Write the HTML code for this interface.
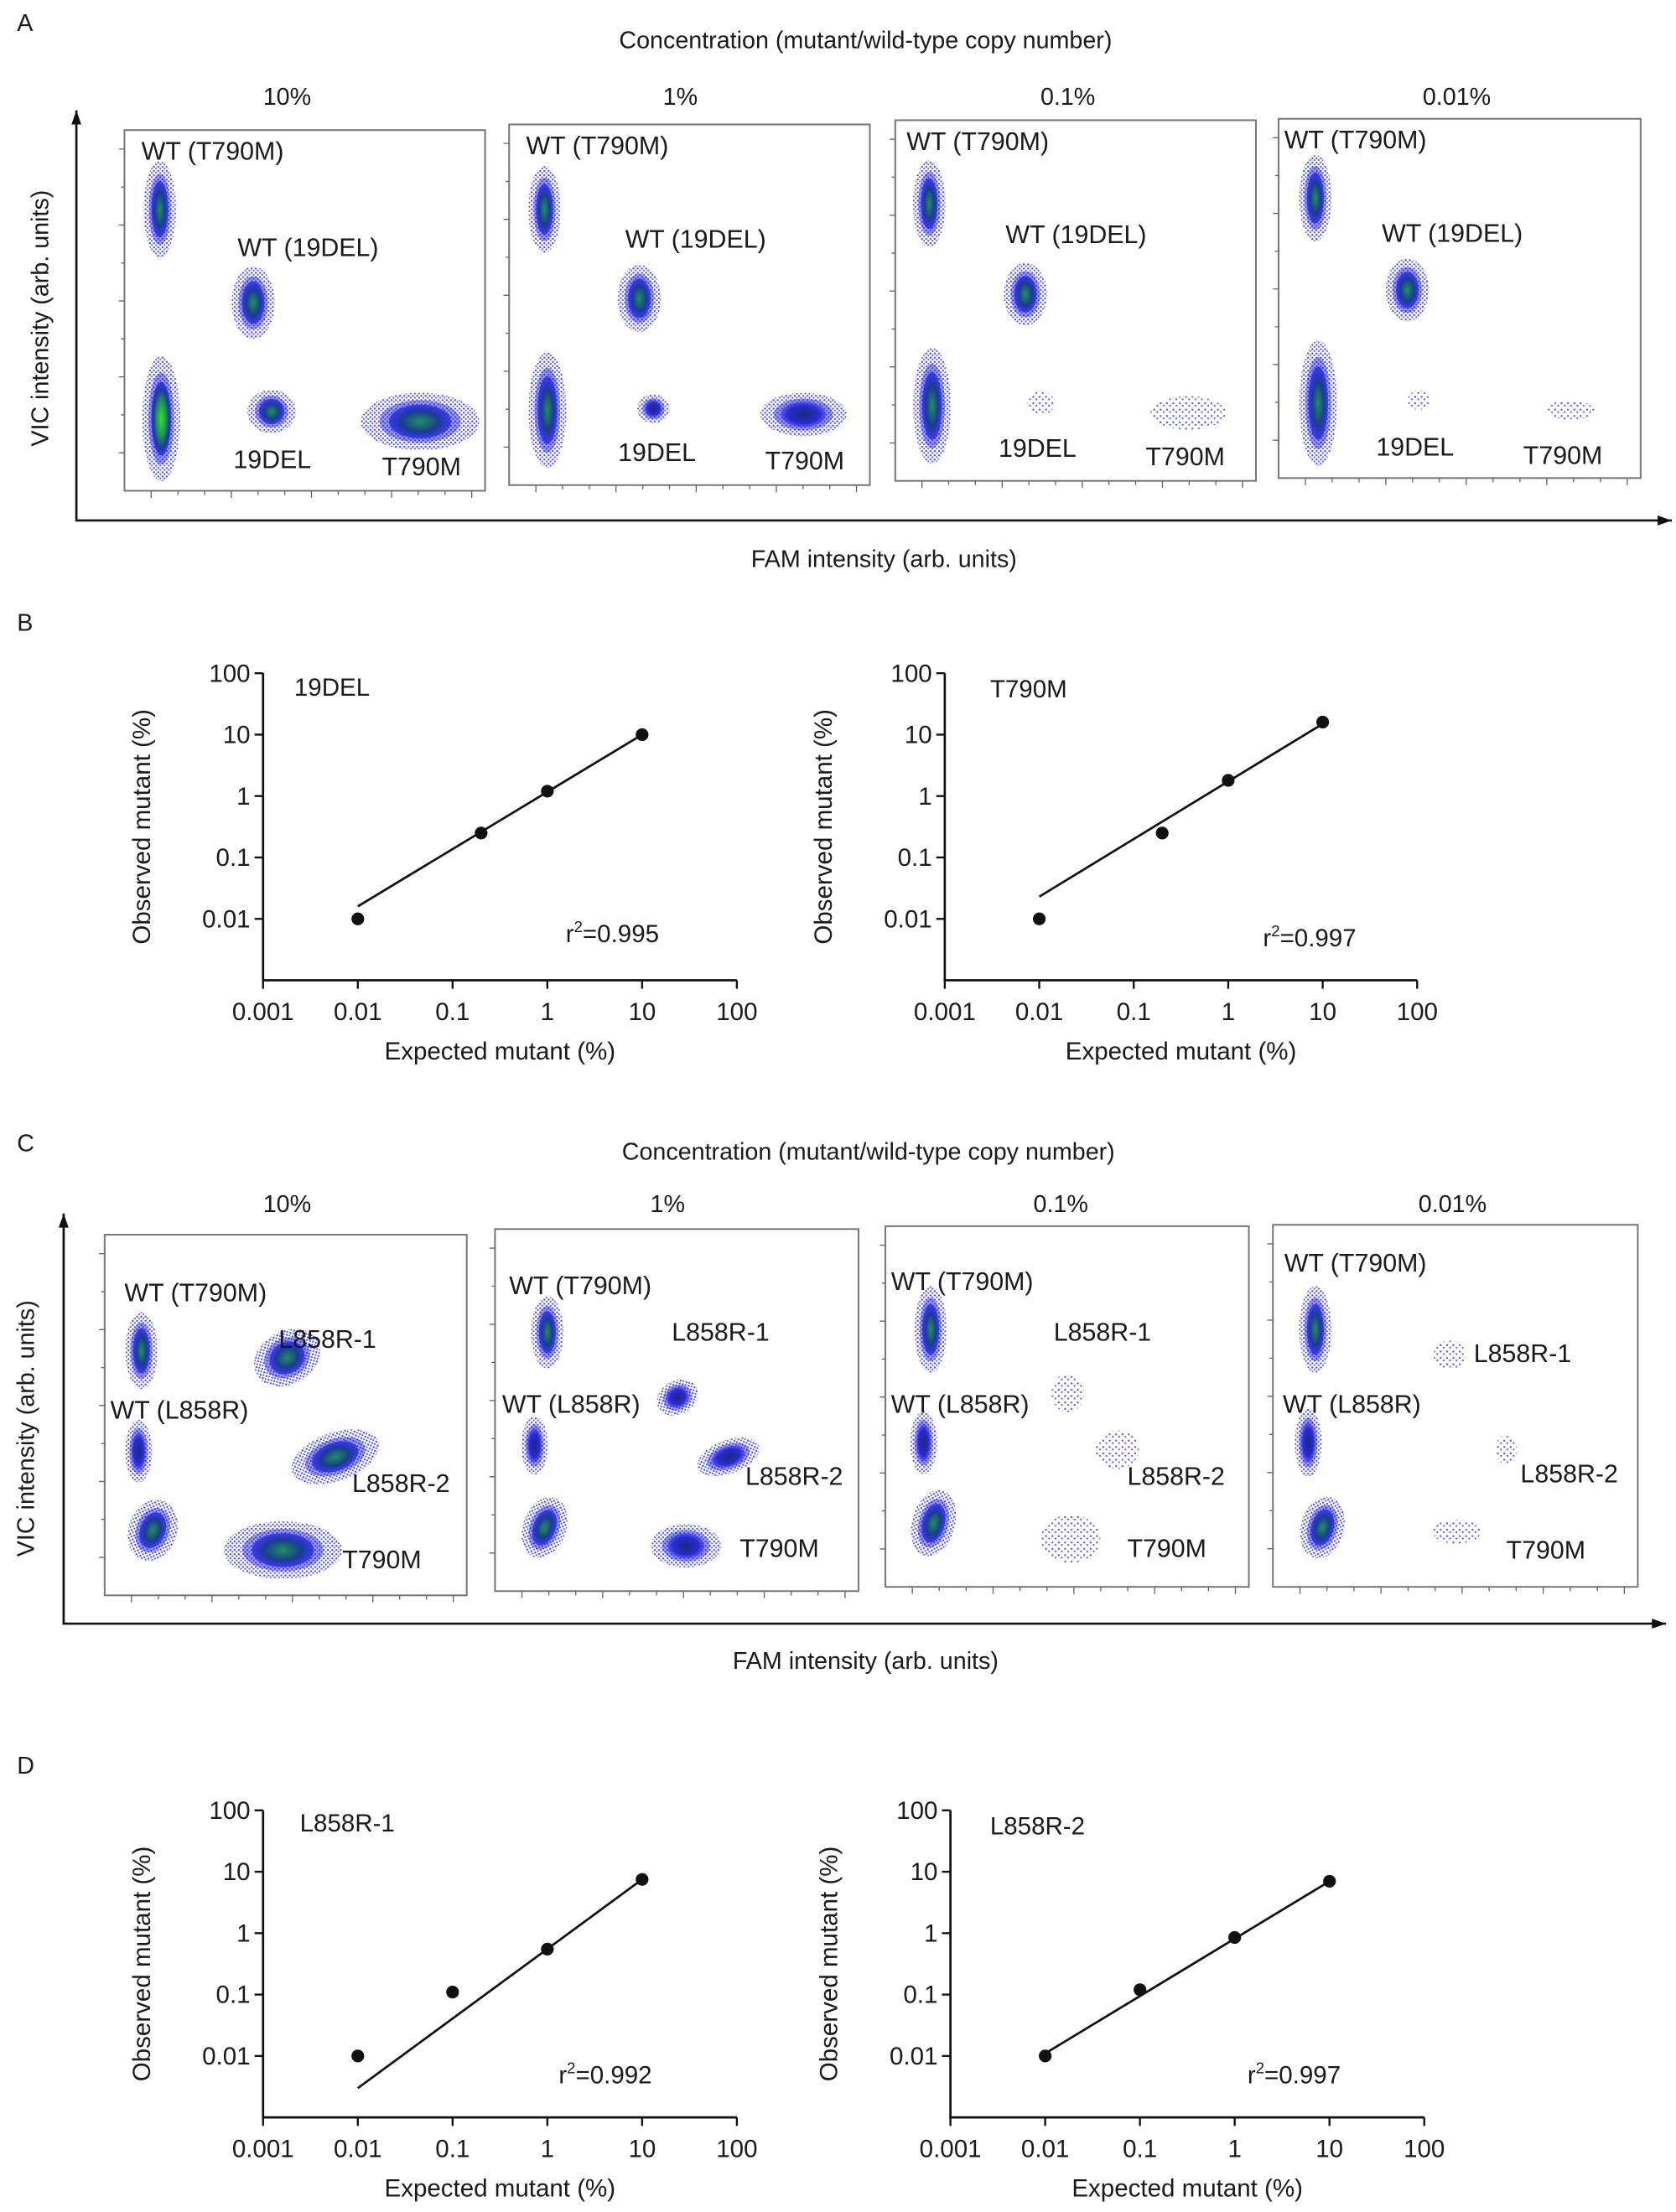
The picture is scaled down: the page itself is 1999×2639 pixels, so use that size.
<!DOCTYPE html>
<html><head><meta charset="utf-8"><style>
html,body{margin:0;padding:0;background:#fff;}
svg{display:block;}
text{font-family:"Liberation Sans",Arial,sans-serif;fill:#1a1a1a;}
</style></head><body>
<svg id="fig" width="1999" height="2639" viewBox="0 0 1185 1564" preserveAspectRatio="none" xmlns="http://www.w3.org/2000/svg">
<defs>
<radialGradient id="gDense"><stop offset="0" stop-color="#30e030"/><stop offset="0.45" stop-color="#1f9a50"/><stop offset="0.8" stop-color="#1a3aa0"/><stop offset="1" stop-color="#2a2af0" stop-opacity="0.85"/></radialGradient>
<radialGradient id="gMid"><stop offset="0" stop-color="#1f9060"/><stop offset="0.6" stop-color="#1a3c90"/><stop offset="1" stop-color="#2a2af0" stop-opacity="0.8"/></radialGradient>
<radialGradient id="gDark"><stop offset="0" stop-color="#1a2a80"/><stop offset="0.7" stop-color="#2a2ad0"/><stop offset="1" stop-color="#3a3af0" stop-opacity="0.6"/></radialGradient>
<pattern id="dots" width="3" height="3" patternUnits="userSpaceOnUse"><rect x="0.3" y="0.3" width="1.2" height="1.2" fill="#1c1ce8"/><rect x="1.8" y="1.7" width="1.1" height="1.1" fill="#2a2af0"/></pattern>
<pattern id="dotsSparse" width="4.5" height="4.5" patternUnits="userSpaceOnUse"><rect x="1" y="1" width="1.2" height="1.2" fill="#2a2af0"/><rect x="3.2" y="2.8" width="1.1" height="1.1" fill="#2a2af0"/></pattern>
</defs>
</svg>
<script>
// ---------- Data: calibration plots ----------
const expected19DEL = [0.01, 0.2, 1, 10];
const observed19DEL = [0.01, 0.25, 1.2, 10];
const fit19DEL = [0.016, 10];
const expectedT790M = [0.01, 0.2, 1, 10];
const observedT790M = [0.01, 0.25, 1.8, 16];
const fitT790M = [0.023, 15];
const expectedL1 = [0.01, 0.1, 1, 10];
const observedL1 = [0.01, 0.11, 0.55, 7.5];
const fitL1 = [0.003, 7.5];
const expectedL2 = [0.01, 0.1, 1, 10];
const observedL2 = [0.01, 0.12, 0.85, 7];
const fitL2 = [0.011, 7];
const fitX = [0.01, 10];
const decadeTicks = [0.001, 0.01, 0.1, 1, 10, 100];
const decadeLabels = ["0.001","0.01","0.1","1","10","100"];
const yTicks = [0.01, 0.1, 1, 10, 100];
const yLabels = ["0.01","0.1","1","10","100"];
const concLabels = ["10%","1%","0.1%","0.01%"];

const svg = document.getElementById('fig');
const NS = 'http://www.w3.org/2000/svg';
function mk(tag, attrs, parent){const e=document.createElementNS(NS,tag);for(const k in attrs)e.setAttribute(k,attrs[k]);(parent||svg).appendChild(e);return e;}
function txt(x,y,s,size,anchor,parent){const t=mk('text',{x:x,y:y,'font-size':size,'text-anchor':anchor||'start'},parent);t.textContent=s;return t;}

[["A",12,22],["B",12,446],["C",12,814],["D",12,1254]].forEach(p=>{
  const t=txt(p[1],p[2],p[0],17);
  
  
});

function scatterPanel(pid, title, titleX, titleY, boxes, conc, axis, xlab, ylab){
  const g=mk('g',{});
  
  
  const t=txt(titleX,titleY,title,17,'middle',g);
  
  
  const ax=mk('path',{d:`M${axis.x},${axis.y1} L${axis.x},${axis.y2} L${axis.x2},${axis.y2}`,fill:'none',stroke:'#111','stroke-width':1.6},g);
  
  
  mk('path',{d:`M${axis.x-3.5},${axis.y1+10} L${axis.x},${axis.y1} L${axis.x+3.5},${axis.y1+10}Z`,fill:'#111'},g);
  mk('path',{d:`M${axis.x2-10},${axis.y2-3.5} L${axis.x2},${axis.y2} L${axis.x2-10},${axis.y2+3.5}Z`,fill:'#111'},g);
  const xl=txt(xlab[0],xlab[1],'FAM intensity (arb. units)',17,'middle',g);
  
  
  const yl=txt(0,0,'VIC intensity (arb. units)',17,'middle',g);
  yl.setAttribute('transform',`translate(${ylab[0]},${ylab[1]}) rotate(-90)`);
  
  
  boxes.forEach((b,i)=>{
    const bg=mk('g',{},g);
    
    
    const cl=txt(conc[i][0],conc[i][1],concLabels[i],17,'middle',bg);
    
    
    b.clusters.forEach(c=>{
      const [cx,cy,rx,ry,lvl,rot]=c;
      const tr=`rotate(${rot||0} ${cx} ${cy})`;
      const halo=mk('ellipse',{cx:cx,cy:cy,rx:rx*1.9,ry:ry*1.7,fill:lvl>=1?'url(#dots)':'url(#dotsSparse)',opacity:lvl>=1?0.85:0.85,transform:tr},bg);
      
      
      if(lvl>=1){
        const mid=mk('ellipse',{cx:cx,cy:cy,rx:rx*1.3,ry:ry*1.25,fill:'#2222e0',opacity:0.45,transform:tr},bg);
        
        
        const core=mk('ellipse',{cx:cx,cy:cy,rx:rx,ry:ry,fill:lvl>=3?'url(#gDense)':(lvl>=2?'url(#gMid)':'url(#gDark)'),transform:tr},bg);
        
        
      }
    });
    const r=mk('rect',{x:b.x,y:b.y,width:b.w,height:b.h,fill:'none',stroke:'#777','stroke-width':1.2},bg);
    
    
    let d='';
    for(let k=1;k<14;k++){const xx=b.x+k*b.w/13.5; d+=`M${xx},${b.y+b.h} L${xx},${b.y+b.h+(k%3==1?5:3)} `;}
    for(let k=1;k<10;k++){const yy=b.y+b.h-k*b.h/9.5; d+=`M${b.x},${yy} L${b.x-(k%2==1?4:2.5)},${yy} `;}
    mk('path',{d:d,stroke:'#666','stroke-width':0.8,fill:'none'},bg);
    b.labels.forEach(l=>{
      const lt=txt(l[0],l[1],l[2],18,'start',bg);
      
      
    });
  });
}

scatterPanel('a','Concentration (mutant/wild-type copy number)',612,34,[
 {x:88,y:92,w:255,h:255,clusters:[[113,148,6,20,2],[179,214,8,15,2],[114,296,7,26,3],[192,291,9,9,2],[297,298,22,12,2]],
  labels:[[100,113,'WT (T790M)'],[168,181,'WT (19DEL)'],[165,331,'19DEL'],[270,336,'T790M']]},
 {x:360,y:88,w:255,h:255,clusters:[[385,148,6,18,2],[452,211,8,14,2],[387,290,7,24,2],[462,289,6,6,1],[568,293,16,9,1]],
  labels:[[372,109,'WT (T790M)'],[442,175,'WT (19DEL)'],[437,326,'19DEL'],[541,332,'T790M']]},
 {x:633,y:85,w:255,h:255,clusters:[[657,144,6,18,2],[725,208,8,13,2],[659,287,7,24,2],[736,285,5,5,0],[840,292,14,7,0]],
  labels:[[641,106,'WT (T790M)'],[711,172,'WT (19DEL)'],[706,323,'19DEL'],[810,329,'T790M']]},
 {x:904,y:84,w:256,h:254,clusters:[[930,140,6,18,2],[995,205,8,13,2],[932,285,7,26,2],[1003,283,4,4,0],[1110,290,9,4,0]],
  labels:[[908,105,'WT (T790M)'],[977,171,'WT (19DEL)'],[973,322,'19DEL'],[1077,328,'T790M']]}
],[[203,74],[481,74],[755,74],[1030,74]],{x:54,y1:78,y2:368,x2:1182},[625,401],[34,225]);

scatterPanel('c','Concentration (mutant/wild-type copy number)',614,820,[
 {x:74,y:873,w:256,h:255,clusters:[[100,955,6,16,2],[203,960,13,11,2,-30],[98,1026,5,13,1],[237,1030,17,10,2,-20],[108,1082,9,13,2,20],[200,1096,22,12,2]],
  labels:[[88,920,'WT (T790M)'],[197,953,'L858R-1'],[78,1003,'WT (L858R)'],[249,1055,'L858R-2'],[242,1109,'T790M']]},
 {x:350,y:869,w:257,h:256,clusters:[[387,942,6,15,2],[479,988,8,7,1,-30],[378,1022,5,12,1],[515,1030,12,7,1,-20],[385,1080,8,13,2,20],[485,1093,13,9,1]],
  labels:[[360,915,'WT (T790M)'],[475,948,'L858R-1'],[355,999,'WT (L858R)'],[527,1050,'L858R-2'],[523,1101,'T790M']]},
 {x:626,y:867,w:257,h:255,clusters:[[658,940,6,18,2],[755,985,6,8,0],[653,1020,5,13,1],[790,1025,8,8,0],[660,1077,8,14,2,15],[757,1088,11,10,0]],
  labels:[[630,912,'WT (T790M)'],[745,948,'L858R-1'],[630,999,'WT (L858R)'],[797,1050,'L858R-2'],[797,1101,'T790M']]},
 {x:900,y:866,w:258,h:256,clusters:[[930,940,6,18,2],[1025,958,6,6,0],[925,1020,5,14,1],[1065,1025,4,6,0],[935,1080,8,13,2,15],[1030,1083,9,5,0]],
  labels:[[908,899,'WT (T790M)'],[1042,963,'L858R-1'],[907,999,'WT (L858R)'],[1075,1048,'L858R-2'],[1065,1102,'T790M']]}
],[[203,857],[472,857],[750,857],[1027,857]],{x:45,y1:858,y2:1148,x2:1178},[612,1180],[24,1010]);

function calPlot(pid, ox, x0, x100, ytop, ybot, name, nameXY, r2, r2XY, ex, ob, fit){
  const g=mk('g',{});
  
  
  const ydec=(ybot-ytop)/5.0;
  const xs=v=>x0+(Math.log10(v)+3)*(x100-x0)/5;
  const ys=v=>ytop+(2-Math.log10(v))*ydec*0.978;
  const axB=ys(0.001);
  const ax=mk('path',{d:`M${x0},${ys(100)} L${x0},${axB} L${x100},${axB}`,fill:'none',stroke:'#111','stroke-width':1.6},g);
  
  
  decadeTicks.forEach((v,i)=>{
    mk('line',{x1:xs(v),y1:axB,x2:xs(v),y2:axB+6,stroke:'#111','stroke-width':1.4},g);
    const t=txt(xs(v),axB+28,decadeLabels[i],17.5,'middle',g);
    
    
  });
  yTicks.forEach((v,i)=>{
    mk('line',{x1:x0,y1:ys(v),x2:x0-6,y2:ys(v),stroke:'#111','stroke-width':1.4},g);
    const t=txt(x0-9,ys(v)+6,yLabels[i],17.5,'end',g);
    
    
  });
  const xt=txt((x0+x100)/2,axB+56,'Expected mutant (%)',17.5,'middle',g);
  
  
  const yt=txt(0,0,'Observed mutant (%)',17.5,'middle',g);
  yt.setAttribute('transform',`translate(${x0-80},${(ys(100)+axB)/2}) rotate(-90)`);
  
  
  const nm=txt(nameXY[0],nameXY[1],name,17.5,'start',g);
  
  
  const rt=mk('text',{x:r2XY[0],y:r2XY[1],'font-size':17.5},g);
  rt.innerHTML='r<tspan font-size="11" dy="-7">2</tspan><tspan dy="7">='+r2+'</tspan>';
  
  
  const fl=mk('line',{x1:xs(fitX[0]),y1:ys(fit[0]),x2:xs(fitX[1]),y2:ys(fit[1]),stroke:'#111','stroke-width':1.6},g);
  
  
  ex.forEach((v,i)=>{
    const c=mk('circle',{cx:xs(v),cy:ys(ob[i]),r:4.5,fill:'#111'},g);
    
    
  });
}
calPlot('19del',0,186,521,476,698,'19DEL',[208,492],'0.995',[400,666],expected19DEL,observed19DEL,fit19DEL);
calPlot('t790m',0,668,1002,476,698,'T790M',[700,493],'0.997',[893,669],expectedT790M,observedT790M,fitT790M);
calPlot('l858r-1',0,186,521,1280,1502,'L858R-1',[212,1295],'0.992',[395,1473],expectedL1,observedL1,fitL1);
calPlot('l858r-2',0,672,1007,1280,1502,'L858R-2',[700,1297],'0.997',[882,1473],expectedL2,observedL2,fitL2);
</script>
</body></html>
